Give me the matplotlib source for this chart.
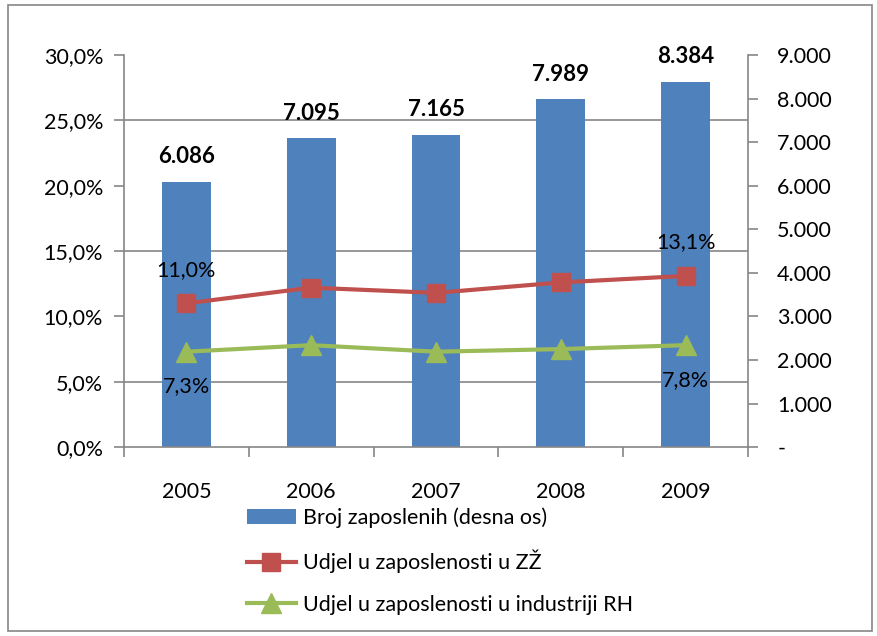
import matplotlib
matplotlib.use('Agg')
import matplotlib.pyplot as plt
from matplotlib.ticker import MultipleLocator, FuncFormatter
from matplotlib.patches import Rectangle

# data
years = ['2005', '2006', '2007', '2008', '2009']
employees = [6086, 7095, 7165, 7989, 8384]
share_zz = [11.0, 12.2, 11.8, 12.6, 13.1]
share_rh = [7.3, 7.8, 7.3, 7.5, 7.8]

lbl_bar = 'Broj zaposlenih (desna os)'
lbl_zz = 'Udjel u zaposlenosti u ZŽ'
lbl_rh = 'Udjel u zaposlenosti u industriji RH'

BLUE = '#4F81BD'
RED = '#C0504D'
GREEN = '#9BBB59'
GRAY = '#868686'

plt.rcParams['font.family'] = ['Lato', 'DejaVu Sans']
plt.rcParams['font.size'] = 15.5

fig = plt.figure(figsize=(8.78, 6.36), dpi=100)
fig.patches.append(Rectangle((0.009, 0.008), 0.984, 0.984, transform=fig.transFigure,
                             fill=False, edgecolor=GRAY, linewidth=1.2))

# bars on the bottom axes, their scale on the right
ax_bar = fig.add_axes([0.1412, 0.297, 0.7108, 0.6165])
x = list(range(len(years)))
bars = ax_bar.bar(x, employees, width=0.39, color=BLUE, label=lbl_bar, zorder=2)
ax_bar.set_ylim(0, 9000)
ax_bar.set_xlim(-0.5, len(years) - 0.5)

# lines on top, percent scale on the left
ax_pct = ax_bar.twinx()
ax_bar.yaxis.tick_right()
ax_pct.yaxis.tick_left()

ax_bar.yaxis.set_major_locator(MultipleLocator(1000))
ax_bar.yaxis.set_major_formatter(FuncFormatter(
    lambda v, p: '-' if v == 0 else '{:,.0f}'.format(v).replace(',', '.')))
# grid follows the percent ticks (every 5% = 1500)
ax_bar.yaxis.set_minor_locator(MultipleLocator(1500))
ax_bar.grid(which='minor', axis='y', color=GRAY, linewidth=1.2, zorder=0)
ax_bar.set_axisbelow(True)
ax_bar.tick_params(axis='y', which='minor', length=0)
ax_bar.tick_params(axis='y', which='major', direction='out', length=7, color=GRAY,
                   width=1.2, pad=14)
ax_bar.set_xticks(x)
ax_bar.set_xticklabels(years)
ax_bar.set_xticks([i - 0.5 for i in range(len(years) + 1)], minor=True)
ax_bar.tick_params(axis='x', which='major', length=0, pad=25)
ax_bar.tick_params(axis='x', which='minor', direction='out', length=7, color=GRAY, width=1.2)
for s in ['left', 'right', 'bottom']:
    ax_bar.spines[s].set_color(GRAY)
    ax_bar.spines[s].set_linewidth(1.2)
ax_bar.spines['top'].set_visible(False)

for i, v in enumerate(employees):
    ax_bar.annotate('{:,}'.format(v).replace(',', '.'), (i, v), xytext=(0, 18),
                    textcoords='offset points', ha='center', va='center',
                    fontweight='bold', fontsize=16)

ax_pct.set_ylim(0, 30)
ax_pct.yaxis.set_major_locator(MultipleLocator(5))
ax_pct.yaxis.set_major_formatter(FuncFormatter(lambda v, p: '{:.1f}%'.format(v).replace('.', ',')))
ax_pct.tick_params(axis='y', direction='out', length=7, color=GRAY, width=1.2, pad=8)
for s in ax_pct.spines.values():
    s.set_visible(False)

ax_pct.plot(x, share_zz, color=RED, linewidth=3, marker='s', markersize=13, label=lbl_zz)
ax_pct.plot(x, share_rh, color=GREEN, linewidth=3, marker='^', markersize=14, label=lbl_rh)

for i in [0, len(years) - 1]:
    ax_pct.annotate('{:.1f}%'.format(share_zz[i]).replace('.', ','), (i, share_zz[i]),
                    xytext=(0, 24), textcoords='offset points', ha='center', va='center')
    ax_pct.annotate('{:.1f}%'.format(share_rh[i]).replace('.', ','), (i, share_rh[i]),
                    xytext=(0, -25), textcoords='offset points', ha='center', va='center')

handles = [bars] + ax_pct.get_lines()
fig.legend(handles, [lbl_bar, lbl_zz, lbl_rh], loc='upper left',
           bbox_to_anchor=(0.281, 0.202), frameon=False, handlelength=2.3,
           handletextpad=0.3, labelspacing=1.0, borderaxespad=0, borderpad=0)

fig.savefig('out.png', dpi=100)
